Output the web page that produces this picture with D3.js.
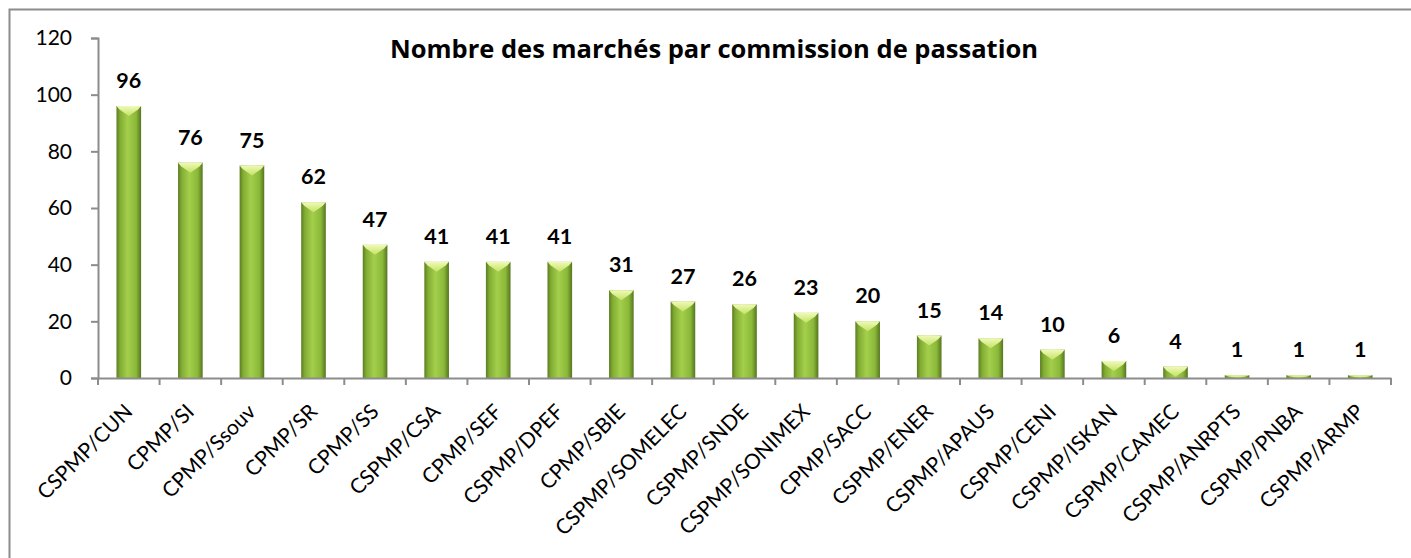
<!DOCTYPE html>
<html>
<head>
<meta charset="utf-8">
<script src="https://cdn.jsdelivr.net/npm/d3@7"></script>
<style>
  body { margin: 0; background: #fff; }
  text { font-family: Lato, "Open Sans", sans-serif; }
  .title { font-family: "Open Sans", sans-serif; }
</style>
</head>
<body>
<svg id="chart" width="1411" height="558"></svg>
<script>
var categories = ["CSPMP/CUN", "CPMP/SI", "CPMP/Ssouv", "CPMP/SR", "CPMP/SS", "CSPMP/CSA",
  "CPMP/SEF", "CSPMP/DPEF", "CPMP/SBIE", "CSPMP/SOMELEC", "CSPMP/SNDE", "CSPMP/SONIMEX",
  "CPMP/SACC", "CSPMP/ENER", "CSPMP/APAUS", "CSPMP/CENI", "CSPMP/ISKAN", "CSPMP/CAMEC",
  "CSPMP/ANRPTS", "CSPMP/PNBA", "CSPMP/ARMP"];
var values = [96, 76, 75, 62, 47, 41, 41, 41, 31, 27, 26, 23, 20, 15, 14, 10, 6, 4, 1, 1, 1];
var yTicks = [0, 20, 40, 60, 80, 100, 120];
var title = "Nombre des marchés par commission de passation";

var svg = d3.select("#chart");

// outer frame
svg.append("rect")
    .attr("x", 9.5).attr("y", 9.5)
    .attr("width", 1420).attr("height", 560)
    .attr("fill", "none")
    .attr("stroke", "#8c8c8c")
    .attr("stroke-width", 2);

var x0 = 98, x1 = 1391, yTop = 38, yBottom = 378;

var x = d3.scaleBand()
    .domain(categories)
    .range([x0, x1])
    .paddingInner(0.6)
    .paddingOuter(0.3);

var xTick = d3.scaleBand().domain(categories).range([x0, x1]);

var y = d3.scaleLinear()
    .domain([0, 120])
    .range([yBottom, yTop]);

// gradients for the bars
var defs = svg.append("defs");
var grad = defs.append("linearGradient").attr("id", "barGrad")
    .attr("x1", "0%").attr("x2", "100%").attr("y1", "0%").attr("y2", "0%");
grad.append("stop").attr("offset", "0%").attr("stop-color", "#5c7d22");
grad.append("stop").attr("offset", "15%").attr("stop-color", "#82ad33");
grad.append("stop").attr("offset", "45%").attr("stop-color", "#a3cf4c");
grad.append("stop").attr("offset", "80%").attr("stop-color", "#8ab838");
grad.append("stop").attr("offset", "100%").attr("stop-color", "#567520");

var capGrad = defs.append("linearGradient").attr("id", "capGrad")
    .attr("x1", "0%").attr("x2", "0%").attr("y1", "0%").attr("y2", "100%");
capGrad.append("stop").attr("offset", "0%").attr("stop-color", "#f0fab8");
capGrad.append("stop").attr("offset", "100%").attr("stop-color", "#c4e266");

// y axis
var yAxis = svg.append("g")
    .attr("transform", "translate(" + x0 + ",0)")
    .call(d3.axisLeft(y).tickValues(yTicks).tickSize(7).tickPadding(19));
yAxis.select(".domain").attr("stroke", "#8c8c8c").attr("stroke-width", 2);
yAxis.selectAll(".tick line").attr("stroke", "#8c8c8c").attr("stroke-width", 2);
yAxis.selectAll("text")
    .style("font-family", "Lato, sans-serif")
    .style("font-size", "21px").attr("fill", "#000");

// bars
var bars = svg.selectAll(".bar")
    .data(values)
    .enter()
    .append("g")
    .attr("class", "bar");

bars.append("rect")
    .attr("x", function(d, i) { return x(categories[i]); })
    .attr("y", function(d) { return y(d); })
    .attr("width", x.bandwidth())
    .attr("height", function(d) { return yBottom - y(d); })
    .attr("fill", "url(#barGrad)");

// light chevron cap on top of each bar
bars.append("path")
    .attr("d", function(d, i) {
        var bx = x(categories[i]), bw = x.bandwidth(), by = y(d);
        var h = Math.min(10, yBottom - by);
        return "M" + bx + "," + by + "L" + (bx + bw) + "," + by +
            "L" + (bx + bw - 3) + "," + (by + h * 0.35) +
            "L" + (bx + bw / 2) + "," + (by + h) +
            "L" + (bx + 3) + "," + (by + h * 0.35) + "Z";
    })
    .attr("fill", "url(#capGrad)");

// x axis
var xAxis = svg.append("g")
    .attr("transform", "translate(0," + yBottom + ")")
    .call(d3.axisBottom(xTick).tickSize(0).tickFormat(""));
xAxis.select(".domain").attr("stroke", "#8c8c8c").attr("stroke-width", 2);

// tick marks on the band boundaries
var boundaries = categories.map(function(c) { return xTick(c); }).concat([x1]);
svg.selectAll(".xtick")
    .data(boundaries)
    .enter()
    .append("line")
    .attr("x1", function(d) { return d; })
    .attr("x2", function(d) { return d; })
    .attr("y1", yBottom)
    .attr("y2", yBottom + 7)
    .attr("stroke", "#8c8c8c")
    .attr("stroke-width", 2);

// category labels
svg.selectAll(".xlabel")
    .data(categories)
    .enter()
    .append("text")
    .attr("transform", function(d) {
        return "translate(" + (xTick(d) + xTick.bandwidth() / 2 + 5) + "," + (yBottom + 35) + ")rotate(-45)";
    })
    .attr("text-anchor", "end")
    .style("font-size", "21px")
    .attr("fill", "#000")
    .text(function(d) { return d; });

// value labels
svg.selectAll(".vlabel")
    .data(values)
    .enter()
    .append("text")
    .attr("x", function(d, i) { return xTick(categories[i]) + xTick.bandwidth() / 2; })
    .attr("y", function(d) { return y(d) - 18; })
    .attr("text-anchor", "middle")
    .style("font-size", "21.5px")
    .style("font-weight", "bold")
    .attr("fill", "#000")
    .text(function(d) { return d; });

// title
svg.append("text")
    .attr("class", "title")
    .attr("x", 714)
    .attr("y", 58)
    .attr("text-anchor", "middle")
    .style("font-size", "25.5px")
    .style("font-weight", "bold")
    .attr("fill", "#000")
    .text(title);
</script>
</body>
</html>
